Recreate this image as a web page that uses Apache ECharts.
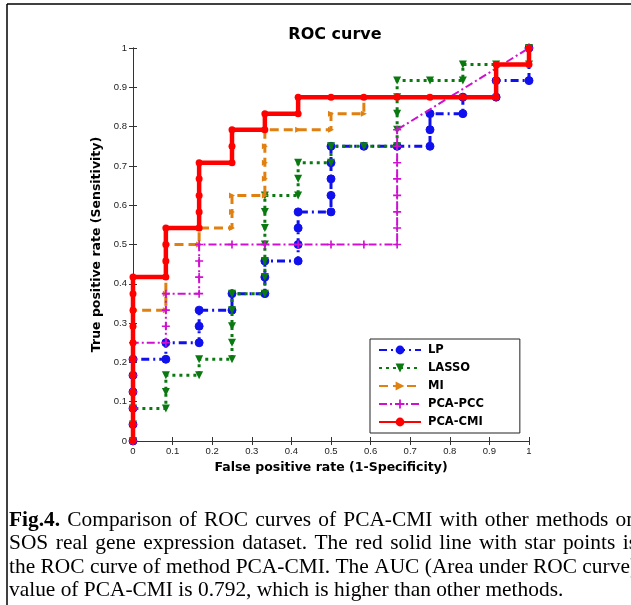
<!DOCTYPE html>
<html><head><meta charset="utf-8">
<script src="https://cdn.jsdelivr.net/npm/echarts@6/dist/echarts.min.js"></script>
<style>html,body{margin:0;padding:0;background:#fff}#c{width:631px;height:605px}</style>
</head><body><div id="c"></div>
<script>
// ---- data (false positive rate, true positive rate) ----
const seriesNames = ['LP', 'LASSO', 'MI', 'PCA-PCC', 'PCA-CMI'];
const lpPts = [[0,0],[0,0.042],[0,0.083],[0,0.125],[0,0.167],[0,0.208],
  [0.083,0.208],[0.083,0.25],[0.167,0.25],[0.167,0.292],[0.167,0.333],
  [0.25,0.333],[0.25,0.375],[0.333,0.375],[0.333,0.417],[0.333,0.458],
  [0.417,0.458],[0.417,0.5],[0.417,0.542],[0.417,0.583],
  [0.5,0.583],[0.5,0.625],[0.5,0.667],[0.5,0.708],[0.5,0.75],
  [0.583,0.75],[0.667,0.75],[0.75,0.75],[0.75,0.792],[0.75,0.833],
  [0.833,0.833],[0.833,0.875],[0.917,0.875],[0.917,0.917],[1,0.917],[1,1]];
const lassoPts = [[0,0],[0,0.042],[0,0.083],
  [0.083,0.083],[0.083,0.125],[0.083,0.167],
  [0.167,0.167],[0.167,0.208],
  [0.25,0.208],[0.25,0.25],[0.25,0.292],[0.25,0.333],[0.25,0.375],
  [0.333,0.375],[0.333,0.417],[0.333,0.458],[0.333,0.5],[0.333,0.542],[0.333,0.583],[0.333,0.625],
  [0.417,0.625],[0.417,0.667],[0.417,0.708],
  [0.5,0.708],[0.5,0.75],[0.583,0.75],
  [0.667,0.75],[0.667,0.792],[0.667,0.833],[0.667,0.875],[0.667,0.917],
  [0.75,0.917],[0.833,0.917],[0.833,0.958],[0.917,0.958],[1,0.958],[1,1]];
const miPts = [[0,0],[0,0.042],[0,0.083],[0,0.125],[0,0.167],[0,0.208],[0,0.25],[0,0.292],[0,0.333],
  [0.083,0.333],[0.083,0.375],[0.083,0.417],[0.083,0.458],[0.083,0.5],
  [0.167,0.5],[0.167,0.542],
  [0.25,0.542],[0.25,0.583],[0.25,0.625],
  [0.333,0.625],[0.333,0.667],[0.333,0.708],[0.333,0.75],[0.333,0.792],
  [0.417,0.792],[0.5,0.792],[0.5,0.833],[0.583,0.833],[0.583,0.875],
  [0.667,0.875],[0.75,0.875],[0.833,0.875],[0.917,0.875],[0.917,0.917],[0.917,0.958],[1,0.958],[1,1]];
const pccPts = [[0,0],[0,0.042],[0,0.083],[0,0.125],[0,0.167],[0,0.208],[0,0.25],
  [0.083,0.25],[0.083,0.292],[0.083,0.333],[0.083,0.375],
  [0.167,0.375],[0.167,0.417],[0.167,0.458],[0.167,0.5],
  [0.25,0.5],[0.333,0.5],[0.417,0.5],[0.5,0.5],[0.583,0.5],[0.667,0.5],
  [0.667,0.542],[0.667,0.583],[0.667,0.625],[0.667,0.667],[0.667,0.708],[0.667,0.75],[0.667,0.792],
  [1,1]];
const cmiPts = [[0,0],[0,0.042],[0,0.083],[0,0.125],[0,0.167],[0,0.208],[0,0.25],[0,0.292],[0,0.333],[0,0.375],[0,0.417],
  [0.083,0.417],[0.083,0.458],[0.083,0.5],[0.083,0.542],
  [0.167,0.542],[0.167,0.583],[0.167,0.625],[0.167,0.667],[0.167,0.708],
  [0.25,0.708],[0.25,0.75],[0.25,0.792],
  [0.333,0.792],[0.333,0.833],
  [0.417,0.833],[0.417,0.875],
  [0.5,0.875],[0.583,0.875],[0.667,0.875],[0.75,0.875],[0.833,0.875],[0.917,0.875],[0.917,0.917],[0.917,0.958],
  [1,0.958],[1,1]];
const axisTicks = [0,0.1,0.2,0.3,0.4,0.5,0.6,0.7,0.8,0.9,1];
const titleText = 'ROC curve';
const xName = 'False positive rate (1-Specificity)';
const yName = 'True positive rate (Sensitivity)';
const captionLead = 'Fig.4.';
const captionLines = [
  'Comparison of ROC curves of PCA-CMI with other methods on',
  'SOS real gene expression dataset. The red solid line with star points is',
  'the ROC curve of method PCA-CMI. The AUC (Area under ROC curve)',
  'value of PCA-CMI is 0.792, which is higher than other methods.'
];

const plusPath = 'path://M4,0h2v4h4v2h-4v4h-2v-4h-4v-2h4z';
const sans = 'Liberation Sans, Arial, sans-serif';
const wide = 'DejaVu Sans, Verdana, sans-serif';
const serif = 'Liberation Serif, Times New Roman, serif';

const chart = echarts.init(document.getElementById('c'), null, {renderer: 'canvas'});

const axCommon = {
  type: 'value', min: 0, max: 1, interval: 0.1,
  axisLine: {show: true, lineStyle: {color: '#333', width: 1}},
  axisTick: {show: true, inside: true, length: 4, lineStyle: {color: '#333'}},
  splitLine: {show: false}
};
const fmt = v => (axisTicks.indexOf(Math.round(v*10)/10) >= 0 ? String(Math.round(v*10)/10) : '');

// caption: justified lines built from words (real text)
const capFontSize = 21.4;
const capFont = capFontSize + 'px ' + serif;
const capBold = 'bold ' + capFontSize + 'px ' + serif;
const mctx = document.createElement('canvas').getContext('2d');
function measure(t, f) { mctx.font = f; return mctx.measureText(t).width; }
const capGraphics = [];
const capTops = [509.5, 533, 556.5, 580];
captionLines.forEach((line, i) => {
  let words = line.split(' ').map(w => ({t: w, f: capFont}));
  if (i === 0) words.unshift({t: captionLead, f: capBold});
  const x0 = 9;
  const justify = i < captionLines.length - 1;
  const widths = words.map(w => measure(w.t, w.f));
  const total = widths.reduce((a, b) => a + b, 0);
  const gap = justify ? (637 - x0 - total) / (words.length - 1) : measure(' ', capFont);
  let x = x0;
  words.forEach((w, k) => {
    capGraphics.push({type: 'text', x: x, y: capTops[i], silent: true,
      style: {text: w.t, font: w.f, fill: '#000', align: 'left', verticalAlign: 'top'}});
    x += widths[k] + gap;
  });
});

const titleFont = 'bold 16px ' + wide;
const titleW = measure(titleText, titleFont);

const option = {
  backgroundColor: '#fff',
  animation: false,
  title: {text: titleText, left: 330 - titleW / 2, top: 22,
    textStyle: {fontFamily: wide, fontWeight: 'bold', fontSize: 16, color: '#000'}},
  grid: {left: 133, top: 48, width: 396, height: 393, containLabel: false},
  xAxis: [
    Object.assign({}, axCommon, {position: 'bottom', name: xName, nameLocation: 'middle', nameGap: 19,
      nameTextStyle: {fontFamily: wide, fontWeight: 'bold', fontSize: 12.5, color: '#000'},
      axisLabel: {fontFamily: sans, fontSize: 9.5, color: '#222', margin: 5, formatter: fmt}}),
    Object.assign({}, axCommon, {position: 'top', axisLabel: {show: false}})
  ],
  yAxis: [
    Object.assign({}, axCommon, {position: 'left', name: yName, nameLocation: 'middle', nameGap: 18,
      nameTextStyle: {fontFamily: wide, fontWeight: 'bold', fontSize: 12.5, color: '#000'},
      axisLabel: {fontFamily: sans, fontSize: 9.5, color: '#222', margin: 6, formatter: fmt}}),
    Object.assign({}, axCommon, {position: 'right', axisLabel: {show: false}})
  ],
  legend: {
    orient: 'vertical', left: 370, top: 339,
    data: seriesNames,
    itemWidth: 42, itemHeight: 11, itemGap: 6,
    padding: [5, 36, 5, 8],
    backgroundColor: '#fff', borderColor: '#222', borderWidth: 1, borderRadius: 0,
    textStyle: {fontFamily: wide, fontWeight: 'bold', fontSize: 11.5, color: '#000', padding: [0,0,0,2]}
  },
  series: [
    {name: 'LP', type: 'line', data: lpPts, symbol: 'circle', symbolSize: 8,
      itemStyle: {color: '#1010ee', borderColor: '#1010ee'},
      lineStyle: {color: '#1010ee', width: 3, type: [8, 4, 2, 4]}, z: 2},
    {name: 'LASSO', type: 'line', data: lassoPts, symbol: 'triangle', symbolRotate: 180, symbolSize: 8,
      itemStyle: {color: '#0a7a10'},
      lineStyle: {color: '#0a7a10', width: 3, type: [3, 4]}, z: 3},
    {name: 'MI', type: 'line', data: miPts, symbol: 'triangle', symbolRotate: -90, symbolSize: 6,
      itemStyle: {color: '#e08010'},
      lineStyle: {color: '#e08010', width: 3, type: [9, 5]}, z: 4},
    {name: 'PCA-PCC', type: 'line', data: pccPts, symbol: plusPath, symbolSize: 8,
      itemStyle: {color: '#d010d0'},
      lineStyle: {color: '#d010d0', width: 2, type: [8, 3, 2, 3]}, z: 5},
    {name: 'PCA-CMI', type: 'line', data: cmiPts, symbol: 'circle', symbolSize: 7,
      itemStyle: {color: '#ff0000'},
      lineStyle: {color: '#ff0000', width: 4.5}, z: 6}
  ],
  graphic: [
    {type: 'line', shape: {x1: 7, y1: 4, x2: 631, y2: 4}, style: {stroke: '#000', lineWidth: 1.5}},
    {type: 'line', shape: {x1: 7, y1: 4, x2: 7, y2: 605}, style: {stroke: '#000', lineWidth: 1.5}}
  ].concat(capGraphics)
};
chart.setOption(option);
</script>
</body></html>
